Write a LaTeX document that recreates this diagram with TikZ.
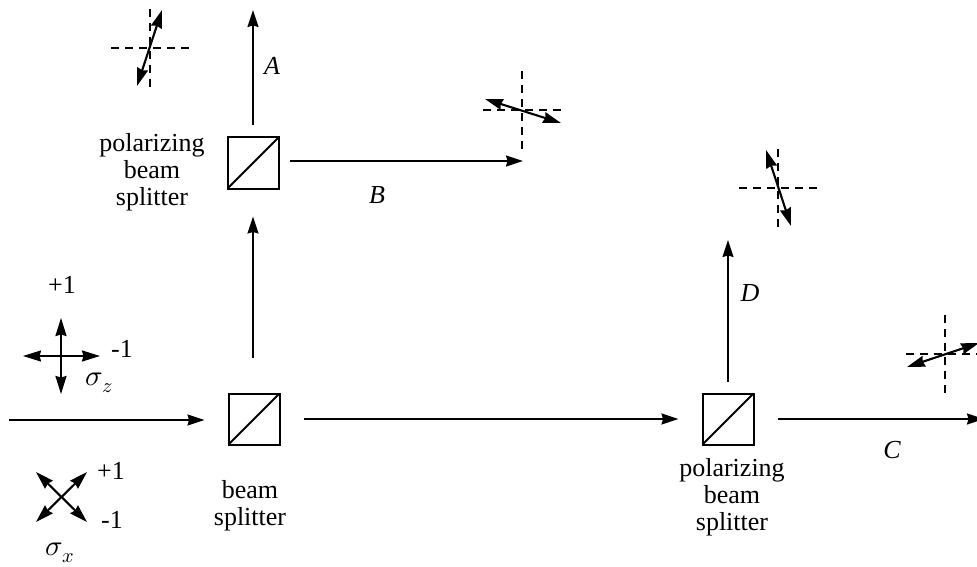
\documentclass[tikz,border=0pt]{standalone}
\usepackage{fontspec}
\setmainfont{Liberation Serif}
\usepackage{unicode-math}
\setmathfont{Latin Modern Math}
\usetikzlibrary{arrows.meta}
\tikzset{
  x=1pt,y=-1pt,
  cube/.style={draw,line width=2pt,minimum size=51pt,inner sep=0pt,outer sep=0pt},
  beam/.style={line width=1.7pt,-{Stealth[length=17pt,width=11pt,inset=1.5pt]}},
  pol/.style={line width=2.1pt,{Stealth[length=18pt,width=11pt,inset=1.5pt]}-{Stealth[length=18pt,width=11pt,inset=1.5pt]}},
  axis/.style={line width=1.7pt,dash pattern=on 8pt off 6pt},
  lbl/.style={font=\fontsize{26}{27}\selectfont,align=center,inner sep=0pt},
  tag/.style={font=\fontsize{26}{27}\selectfont\itshape,inner sep=0pt},
  num/.style={font=\fontsize{26}{27}\selectfont,inner sep=0pt},
  sig/.style={font=\fontsize{29}{27}\selectfont,inner sep=0pt}
}
% name, centre of the dashed cross, arrow ends
\newcommand{\polcross}[4]{%
  \coordinate (#1c) at #2;
  \coordinate (#1a) at #3;
  \coordinate (#1b) at #4;
  \draw[axis] ([xshift=-39pt]#1c) -- ([xshift=39pt]#1c);
  \draw[axis] ([yshift=-39pt]#1c) -- ([yshift=39pt]#1c);
  \draw[pol] (#1a) -- (#1b);
}
\begin{document}
\begin{tikzpicture}
\useasboundingbox (0,0) rectangle (977,567);
% cubes
\node[cube] (pbsA) at (253,163) {};
\node[cube] (bs) at (254,419) {};
\node[cube] (pbsB) at (728,419) {};
\foreach \c in {pbsA,bs,pbsB}
  \draw[line width=2pt] (\c.south west) -- (\c.north east);
% free ends
\coordinate (in) at (9,420);
\coordinate (outA) at (253,10);
\coordinate (outB) at (523,161);
\coordinate (outC) at (984,419);
\coordinate (outD) at (728,240);
% beams
\draw[beam,shorten >=24pt] (in) -- (bs.west |- in);
\draw[beam,shorten <=36pt,shorten >=28pt] (bs.north -| pbsA) -- (pbsA.south);
\draw[beam,shorten <=24pt,shorten >=24pt] (bs.east) -- (pbsB.west);
\draw[beam,shorten <=12pt] (pbsA.north) -- (outA);
\draw[beam,shorten <=11pt] (pbsA.east |- outB) -- (outB);
\draw[beam,shorten <=12pt] (pbsB.north) -- (outD);
\draw[beam,shorten <=24pt] (pbsB.east) -- (outC);
% polarisation crosses
\polcross{pa}{(150,48)}{(137,86)}{(162,10)}
\polcross{pb}{(522,110)}{(485,99)}{(561,123)}
\polcross{pd}{(778,188)}{(766,150)}{(791,226)}
\polcross{pc}{(945,354)}{(907,367)}{(979,343)}
% basis arrows
\coordinate (zc) at (61,356);
\coordinate (zl) at (23,356);
\coordinate (zr) at (100,356);
\coordinate (zt) at (61,318);
\coordinate (zb) at (61,394);
\draw[pol] (zl) -- (zr);
\draw[pol] (zt) -- (zb);
\coordinate (xa) at (36,472);
\coordinate (xb) at (87,522);
\coordinate (xc) at (36,522);
\coordinate (xd) at (87,472);
\draw[pol] (xa) -- (xb);
\draw[pol] (xc) -- (xd);
% texts
\node[lbl] (t1) at (152,172) {polarizing\\beam\\splitter};
\node[lbl] (t2) at (250,506) {beam\\splitter};
\node[lbl] (t3) at (732,497) {polarizing\\beam\\splitter};
\node[tag] (lA) at (272,66) {A};
\node[tag] (lB) at (377,195) {B};
\node[tag] (lC) at (892,450) {C};
\node[tag] (lD) at (750,293) {D};
\node[num] (n1) at (62,285) {+1};
\node[num] (n2) at (122,349) {-1};
\node[num] (n3) at (111,471) {+1};
\node[num] (n4) at (112,520) {-1};
\node[sig] (s1) at (99,383) {$\sigma_z$};
\node[sig] (s2) at (60,553) {$\sigma_x$};
\end{tikzpicture}
\end{document}
